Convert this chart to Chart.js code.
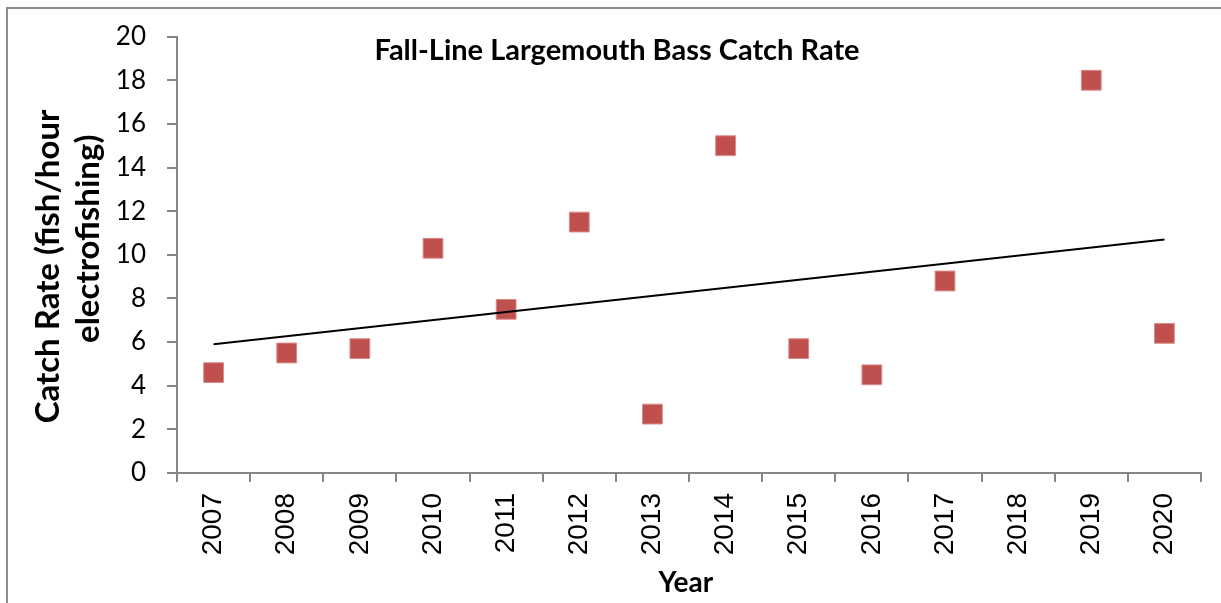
<!DOCTYPE html>
<html><head><meta charset="utf-8">
<script src="https://cdn.jsdelivr.net/npm/chart.js@4"></script>
<style>html,body{margin:0;padding:0;background:#fff}#wrap{width:1221px;height:603px;position:relative}</style>
</head><body><div id="wrap"><canvas id="c" width="1221" height="603"></canvas></div>
<script>
const years = ['2007','2008','2009','2010','2011','2012','2013','2014','2015','2016','2017','2018','2019','2020'];
const catchRate = [4.6, 5.5, 5.7, 10.3, 7.5, 11.5, 2.7, 15.0, 5.7, 4.5, 8.8, null, 18.0, 6.4];
const trendYears = ['2007', '2020'];
const trendValues = [5.9, 10.7];
const yTicks = [0, 2, 4, 6, 8, 10, 12, 14, 16, 18, 20];
const chartTitle = 'Fall-Line Largemouth Bass Catch Rate';
const yTitle = ['Catch Rate (fish/hour\u00A0\u00A0\u00A0', '\u00A0\u00A0\u00A0\u00A0electrofishing)'];
const xTitle = 'Year\u00A0';

const frame = {
  id: 'frame',
  beforeDraw(chart) {
    const ctx = chart.ctx;
    ctx.save();
    ctx.fillStyle = '#fff';
    ctx.fillRect(0, 0, chart.width, chart.height);
    ctx.strokeStyle = '#8c8c8c';
    ctx.lineWidth = 2;
    ctx.strokeRect(7, 8, 1300, 700);
    ctx.restore();
  },
  afterDraw(chart) {
    const ctx = chart.ctx;
    ctx.save();
    ctx.font = 'bold 29px Lato';
    ctx.fillStyle = '#000';
    ctx.textAlign = 'center';
    ctx.textBaseline = 'middle';
    ctx.fillText(chartTitle, 617, 51);
    ctx.restore();
  }
};

new Chart(document.getElementById('c'), {
  type: 'line',
  data: {
    labels: years,
    datasets: [
      {
        label: 'Catch Rate',
        data: catchRate,
        showLine: false,
        pointStyle: 'rect',
        pointRadius: 14,
        pointBackgroundColor: '#C0504D',
        pointBorderColor: '#D98D8B',
        pointBorderWidth: 1,
        order: 1
      },
      {
        label: 'Trend',
        data: trendYears.map((y, i) => ({x: y, y: trendValues[i]})),
        borderColor: '#000',
        borderWidth: 2,
        pointRadius: 0,
        fill: false,
        tension: 0,
        order: 0
      }
    ]
  },
  options: {
    responsive: false,
    animation: false,
    devicePixelRatio: 1,
    layout: {padding: {left: 0, top: 35, right: 20, bottom: 0}},
    plugins: {legend: {display: false}, tooltip: {enabled: false}, title: {display: false}},
    scales: {
      x: {
        type: 'category',
        offset: true,
        grid: {offset: true, drawOnChartArea: false, drawTicks: true, tickLength: 9, color: '#868686', lineWidth: 2},
        border: {color: '#868686', width: 2},
        ticks: {maxRotation: 90, minRotation: 90, autoSkip: false, padding: 11, color: '#000',
                font: {family: '"Liberation Sans", Arial, sans-serif', size: 28}},
        title: {display: true, text: xTitle, color: '#000',
                font: {family: 'Lato', weight: 'bold', size: 28, lineHeight: 1.2}, padding: {top: 0, bottom: 3}},
        afterFit(s) { s.height = 130; }
      },
      y: {
        min: 0, max: 20,
        grid: {drawOnChartArea: false, drawTicks: true, tickLength: 10, color: '#868686', lineWidth: 2},
        border: {color: '#868686', width: 2},
        ticks: {padding: 21, color: '#000', font: {family: 'Lato', size: 26}},
        afterBuildTicks(s) { s.ticks = yTicks.map(v => ({value: v})); },
        title: {display: true, text: yTitle, color: '#000',
                font: {family: 'Lato', weight: 'bold', size: 33, lineHeight: 1.2}, padding: {top: 29, bottom: 0}},
        afterFit(s) { s.width = 177; }
      }
    }
  },
  plugins: [frame]
});
</script>
</body></html>
